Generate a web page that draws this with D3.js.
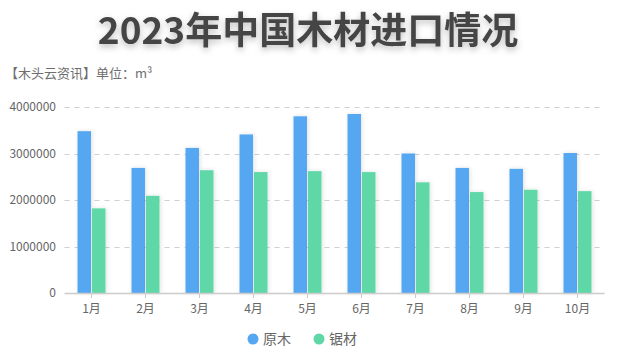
<!DOCTYPE html>
<html><head><meta charset="utf-8">
<script src="https://cdn.jsdelivr.net/npm/d3@7"></script>
<style>
html,body{margin:0;padding:0;background:#fff;}
svg{display:block;font-family:"Noto Sans CJK SC","Microsoft YaHei",sans-serif;}
</style></head>
<body><svg id="c" width="619" height="358"></svg>
<script>
const months = ["1月","2月","3月","4月","5月","6月","7月","8月","9月","10月"];
const seriesNames = ["原木","锯材"];
const logs = [3480000,2690000,3120000,3410000,3800000,3850000,3000000,2690000,2670000,3010000];
const lumber = [1820000,2090000,2640000,2600000,2620000,2600000,2380000,2170000,2220000,2190000];
const yTicks = [0,1000000,2000000,3000000,4000000];
const colors = ["#55a7f1","#5fd7a6"];

const svg = d3.select("#c");
const defs = svg.append("defs");
const f = defs.append("filter").attr("id","ts").attr("x","-10%").attr("y","-30%").attr("width","120%").attr("height","160%");
f.append("feDropShadow").attr("dx",0).attr("dy",3).attr("stdDeviation",3).attr("flood-color","#000").attr("flood-opacity",0.25);
const fb = defs.append("filter").attr("id","bs").attr("x","-50%").attr("y","-10%").attr("width","200%").attr("height","120%");
fb.append("feDropShadow").attr("dx",1).attr("dy",0).attr("stdDeviation",2).attr("flood-color","#000").attr("flood-opacity",0.12);

const x0 = 64.5, x1 = 604.5, yTop = 107, yBot = 293;
const x = d3.scaleBand().domain(months).range([x0,x1]);
const y = d3.scaleLinear().domain([0,4000000]).range([yBot,yTop]);
const bw = 13.5;

// title
svg.append("text").attr("x",308).attr("y",44).attr("text-anchor","middle")
  .attr("font-size",37).attr("font-weight","bold").attr("fill","#444").attr("filter","url(#ts)")
  .text("2023年中国木材进口情况");
svg.append("text").attr("x",5).attr("y",78).attr("font-size",13).attr("fill","#6e6e6e")
  .text("【木头云资讯】单位：m³");

// grid
const g = svg.append("g");
g.selectAll("line.grid").data(yTicks.filter(d=>d>0)).join("line")
  .attr("x1",x0).attr("x2",x1).attr("y1",d=>Math.round(y(d))+0.5).attr("y2",d=>Math.round(y(d))+0.5)
  .attr("stroke","#d0d0d0").attr("stroke-dasharray","5,5");
g.selectAll("text.yl").data(yTicks).join("text")
  .attr("x",56).attr("y",d=>y(d)+4).attr("text-anchor","end").attr("font-size",12).attr("fill","#666")
  .text(d=>d);

// bars
const data = months.map((m,i)=>({m, v:[logs[i],lumber[i]]}));
const bg = svg.append("g");
data.forEach(d=>{
  const c = x(d.m)+x.bandwidth()/2;
  d.v.forEach((v,j)=>{
    bg.append("rect").attr("x", j===0 ? c-bw-0.5 : c+0.5).attr("width",bw)
      .attr("y",y(v)).attr("height",yBot-y(v)).attr("fill",colors[j]).attr("filter","url(#bs)");
  });
});

// x axis
svg.append("line").attr("x1",x0).attr("x2",x1).attr("y1",yBot+0.5).attr("y2",yBot+0.5).attr("stroke","#ccc").attr("stroke-width",1.5);
svg.selectAll("line.xt").data(months).join("line")
  .attr("x1",d=>x(d)+x.bandwidth()/2).attr("x2",d=>x(d)+x.bandwidth()/2)
  .attr("y1",yBot).attr("y2",yBot+5).attr("stroke","#ccc");
svg.selectAll("text.xl").data(months).join("text")
  .attr("x",d=>x(d)+x.bandwidth()/2).attr("y",313).attr("text-anchor","middle")
  .attr("font-size",12).attr("fill","#666").text(d=>d);

// legend
const lx = [253,319];
seriesNames.forEach((n,i)=>{
  svg.append("circle").attr("cx",lx[i]).attr("cy",339).attr("r",5.5).attr("fill",colors[i]);
  svg.append("text").attr("x",lx[i]+10).attr("y",344).attr("font-size",14).attr("fill","#666").text(n);
});
</script></body></html>
